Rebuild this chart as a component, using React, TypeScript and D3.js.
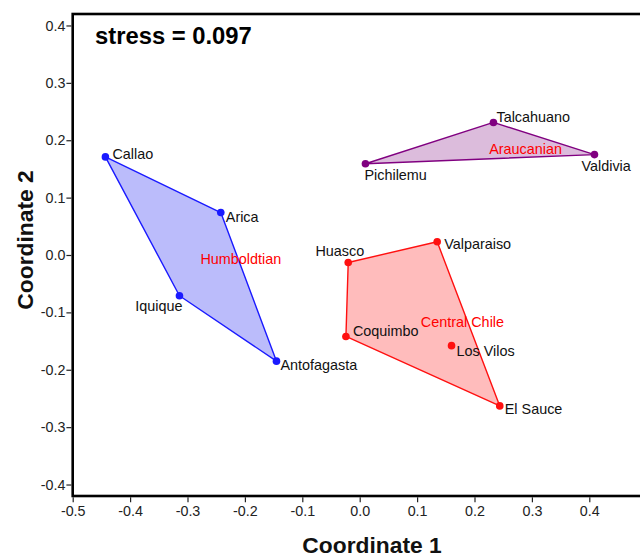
import * as d3 from 'd3';
import React, { useEffect, useRef } from 'react';

const sites = ['Callao', 'Arica', 'Iquique', 'Antofagasta', 'Pichilemu', 'Talcahuano', 'Valdivia', 'Huasco', 'Valparaiso', 'Coquimbo', 'Los Vilos', 'El Sauce'];
const coord1 = [-0.443, -0.242, -0.314, -0.145, 0.010, 0.233, 0.409, -0.020, 0.135, -0.024, 0.160, 0.244];
const coord2 = [0.171, 0.074, -0.071, -0.185, 0.159, 0.231, 0.175, -0.013, 0.023, -0.142, -0.158, -0.263];
const siteGroup = ['Humboldtian', 'Humboldtian', 'Humboldtian', 'Humboldtian', 'Araucanian', 'Araucanian', 'Araucanian', 'Central Chile', 'Central Chile', 'Central Chile', 'Central Chile', 'Central Chile'];

const groups = ['Humboldtian', 'Araucanian', 'Central Chile'];
const groupLabelX = [-0.207, 0.289, 0.179];
const groupLabelY = [-0.016, 0.176, -0.125];

const xTicks = [-0.5, -0.4, -0.3, -0.2, -0.1, 0.0, 0.1, 0.2, 0.3, 0.4];
const yTicks = [-0.4, -0.3, -0.2, -0.1, 0.0, 0.1, 0.2, 0.3, 0.4];
const stress = 0.097;

// styling
const groupColor: Record<string, { stroke: string; fill: string }> = {
  Humboldtian: { stroke: '#1a1aff', fill: '#bbbcfb' },
  Araucanian: { stroke: '#800080', fill: '#dcbcdc' },
  'Central Chile': { stroke: '#ff1010', fill: '#ffbcbc' },
};

// label offsets in px: [dx, dy, anchor]
const labelOffset: Record<string, [number, number, string]> = {
  Callao: [7, 2, 'start'],
  Arica: [5, 9, 'start'],
  Iquique: [3, 15, 'end'],
  Antofagasta: [4, 9, 'start'],
  Pichilemu: [-1, 16, 'start'],
  Talcahuano: [3, 0, 'start'],
  Valdivia: [-13, 16, 'start'],
  Huasco: [16, -6, 'end'],
  Valparaiso: [7, 7, 'start'],
  Coquimbo: [7, 0, 'start'],
  'Los Vilos': [5, 10, 'start'],
  'El Sauce': [5, 8, 'start'],
};

const font = 'Liberation Sans, Arial, sans-serif';
const width = 640, height = 557;

const App = () => {
  const xAxisRef = useRef<SVGGElement>(null);
  const yAxisRef = useRef<SVGGElement>(null);

  const x = d3.scaleLinear().domain([-0.5, 0.5]).range([72.7, 646.7]);
  const y = d3.scaleLinear().domain([-0.42, 0.42]).range([496, 14]);

  useEffect(() => {
    const fmt = (d: d3.NumberValue) => (+d).toFixed(1);
    const xa = d3.select(xAxisRef.current!);
    xa.selectAll('*').remove();
    xa.call(d3.axisBottom(x).tickValues(xTicks).tickFormat(fmt).tickSize(5).tickPadding(4));
    const ya = d3.select(yAxisRef.current!);
    ya.selectAll('*').remove();
    ya.call(d3.axisLeft(y).tickValues(yTicks).tickFormat(fmt).tickSize(5).tickPadding(1));
    [xa, ya].forEach(a => {
      a.select('.domain').remove();
      a.selectAll('line').attr('stroke', '#222').attr('stroke-width', 1.2);
      a.selectAll('text').attr('font-family', font).attr('font-size', 14.3).attr('fill', '#222');
    });
  }, []);

  const pts = sites.map((s, i) => ({ name: s, g: siteGroup[i], px: x(coord1[i]), py: y(coord2[i]) }));

  return (
    <svg width={width} height={height} style={{ position: 'absolute', left: 0, top: 0, background: '#fff' }}>
      {groups.map(g => {
        const hull = d3.polygonHull(pts.filter(p => p.g === g).map(p => [p.px, p.py] as [number, number]));
        return (
          <path key={g} d={'M' + hull!.map(p => p.join(',')).join('L') + 'Z'}
            fill={groupColor[g].fill} stroke={groupColor[g].stroke} strokeWidth={1.4} strokeLinejoin="round" />
        );
      })}
      {groups.map((g, i) => (
        <text key={g} x={x(groupLabelX[i])} y={y(groupLabelY[i])} textAnchor="middle"
          fontFamily={font} fontSize={14.4} fill="#ff0000">{g}</text>
      ))}
      {pts.map(p => (
        <circle key={p.name} cx={p.px} cy={p.py} r={3.8} fill={groupColor[p.g].stroke} />
      ))}
      {pts.map(p => {
        const [dx, dy, anchor] = labelOffset[p.name];
        return (
          <text key={p.name} x={p.px + dx} y={p.py + dy} textAnchor={anchor}
            fontFamily={font} fontSize={14.4} fill="#111">{p.name}</text>
        );
      })}
      <rect x={72.7} y={14} width={574} height={482} fill="none" stroke="#000" strokeWidth={2.6} />
      <g ref={xAxisRef} transform="translate(0,497.3)" />
      <g ref={yAxisRef} transform="translate(71.4,0)" />
      <text x={95} y={44} fontFamily={font} fontSize={23.8} fontWeight="bold" fill="#000">stress = {stress.toFixed(3)}</text>
      <text x={372} y={553} textAnchor="middle" fontFamily={font} fontSize={22.8} fontWeight="bold" fill="#111">Coordinate 1</text>
      <text transform="translate(33,240) rotate(-90)" textAnchor="middle" fontFamily={font} fontSize={22.8} fontWeight="bold" fill="#111">Coordinate 2</text>
    </svg>
  );
};

export default App;
